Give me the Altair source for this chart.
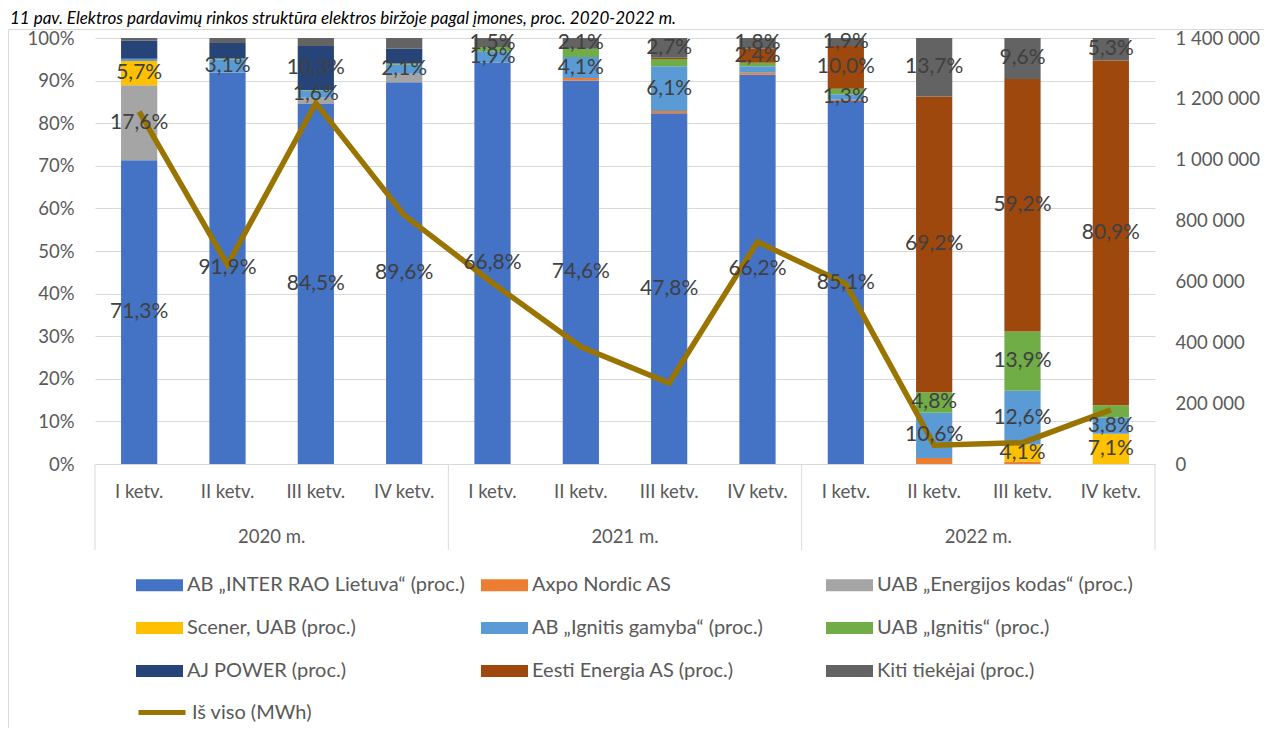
import altair as alt
import pandas as pd

TITLE = "11 pav. Elektros pardavimų rinkos struktūra elektros biržoje pagal įmones, proc. 2020-2022 m."

years = ["2020 m.", "2021 m.", "2022 m."]
quarters = ["I ketv.", "II ketv.", "III ketv.", "IV ketv."]

series_names = [
    "AB „INTER RAO Lietuva“ (proc.)",
    "Axpo Nordic AS",
    "UAB „Energijos kodas“ (proc.)",
    "Scener, UAB (proc.)",
    "AB „Ignitis gamyba“ (proc.)",
    "UAB „Ignitis“ (proc.)",
    "AJ POWER (proc.)",
    "Eesti Energia AS (proc.)",
    "Kiti tiekėjai (proc.)",
]
series_colors = ["#4472C4", "#ED7D31", "#A5A5A5", "#FFC000", "#5B9BD5",
                 "#70AD47", "#264478", "#9E480E", "#636363"]

# shares per quarter (2020 I .. 2022 IV), in percent
inter_rao = [71.3, 91.9, 84.5, 89.6, 66.8, 74.6, 47.8, 66.2, 85.1, 0, 0, 0]
axpo = [0, 0, 0, 0, 0, 0.45, 0.3, 0.35, 0.3, 1.4, 0.5, 0]
energijos_kodas = [17.6, 0, 1.5, 2.0, 0, 0, 0, 0, 0, 0, 0, 0]
scener = [5.7, 0, 0, 0, 0, 0, 0, 0, 0, 0, 4.1, 7.1]
ignitis_gamyba = [0.5, 3.1, 1.6, 2.1, 1.9, 4.1, 6.1, 1.1, 1.3, 10.6, 12.6, 3.8]
ignitis = [0, 0.2, 0.2, 0.3, 0.7, 1.6, 1.0, 0.6, 1.3, 4.8, 13.9, 2.9]
aj_power = [4.3, 3.6, 10.3, 3.5, 0, 0, 0, 0, 0, 0, 0, 0]
eesti = [0, 0, 0, 0, 0, 0, 0.15, 2.4, 10.0, 69.2, 59.2, 80.9]
kiti = [0.6, 1.2, 1.9, 2.5, 1.5, 2.1, 2.7, 1.8, 1.9, 13.7, 9.6, 5.3]

# which quarters carry a data label, per series
labelled = [
    [0, 1, 2, 3, 4, 5, 6, 7, 8],
    [],
    [0],
    [0, 10, 11],
    [1, 2, 3, 4, 5, 6, 8, 9, 10, 11],
    [9, 10],
    [2],
    [7, 8, 9, 10, 11],
    [4, 5, 6, 7, 8, 9, 10, 11],
]

line_name = "Iš viso (MWh)"
line_color = "#9A7400"
total_mwh = [1158000, 654000, 1186000, 818000, 595000, 385000, 266000,
             730000, 592000, 62000, 70000, 178000]

keys = [f"{y}|{q}" for y in years for q in quarters]

series_values = [inter_rao, axpo, energijos_kodas, scener, ignitis_gamyba,
                 ignitis, aj_power, eesti, kiti]

rows = []
for si, (name, vals) in enumerate(zip(series_names, series_values)):
    for qi, v in enumerate(vals):
        rows.append({
            "key": keys[qi], "series": name, "order": si, "value": v,
            "show": qi in labelled[si],
            "label": f"{v:.1f}%".replace(".", ","),
        })
bars_df = pd.DataFrame(rows)
line_df = pd.DataFrame({"key": keys, "total": total_mwh, "name": line_name})
years_df = pd.DataFrame({"key": [f"{y}|III ketv." for y in years], "year": years})
seps_df = pd.DataFrame({"key": [f"{y}|I ketv." for y in years]})
end_df = pd.DataFrame({"key": [keys[-1]]})
deco_df = pd.DataFrame({"t": [TITLE]})

FONT = "Lato"
GREY = "#595959"
GRID = "#D9D9D9"
W, H = 1060, 426
AX_FS = 18.5

xscale = alt.Scale(domain=keys, paddingInner=0, paddingOuter=0)
xaxis = alt.Axis(title=None, labelExpr="split(datum.label, '|')[1]", labelAngle=0,
                 labelFont=FONT, labelFontSize=AX_FS, labelColor=GREY, labelPadding=18,
                 ticks=False, domainColor=GRID, domainWidth=1, grid=False)
pscale = alt.Scale(domain=[0, 1])

base = alt.Chart(bars_df).transform_stack(
    stack="value", groupby=["key"], sort=[alt.SortField("order", "ascending")],
    as_=["y0", "y1"], offset="normalize")

bars = base.mark_bar(width=alt.RelativeBandSize(0.41)).encode(
    x=alt.X("key:N", scale=xscale, axis=xaxis, sort=keys),
    y=alt.Y("y0:Q", scale=pscale,
            axis=alt.Axis(title=None, format=".0%", values=[i / 10 for i in range(11)],
                          labelFont=FONT, labelFontSize=AX_FS, labelColor=GREY,
                          labelPadding=21, ticks=False, domain=False,
                          gridColor=GRID, gridWidth=1)),
    y2="y1:Q",
    color=alt.Color("series:N", scale=alt.Scale(domain=series_names, range=series_colors),
                    legend=alt.Legend(title=None, orient="none", legendX=41, legendY=523.5,
                                      direction="horizontal", columns=3, gridAlign="all",
                                      columnPadding=16, rowPadding=9,
                                      symbolType="M-1,-0.255L1,-0.255L1,0.255L-1,0.255Z",
                                      symbolSize=2209, symbolStrokeWidth=0,
                                      labelFont=FONT, labelFontSize=20, labelColor=GREY,
                                      labelOffset=4, labelLimit=400, padding=0)),
)

line = alt.Chart(line_df).mark_line(strokeWidth=5.5, strokeJoin="miter").encode(
    x=alt.X("key:N", sort=keys),
    y=alt.Y("total:Q", scale=alt.Scale(domain=[0, 1400000]),
            axis=alt.Axis(orient="right", title=None,
                          values=[i * 200000 for i in range(8)],
                          labelExpr="replace(replace(format(datum.value, ',.0f'), ',', ' '), ',', ' ')",
                          labelFont=FONT, labelFontSize=AX_FS, labelColor=GREY,
                          labelPadding=20, ticks=False, domain=False, grid=False)),
    stroke=alt.Stroke("name:N", scale=alt.Scale(domain=[line_name], range=[line_color]),
                      legend=alt.Legend(title=None, orient="none", legendX=41, legendY=648.5,
                                        symbolType="stroke", symbolSize=2209,
                                        symbolStrokeWidth=5,
                                        labelFont=FONT, labelFontSize=20, labelColor=GREY,
                                        labelOffset=4, padding=0)),
)

labels = base.transform_filter("datum.show").transform_calculate(
    mid="(datum.y0 + datum.y1) / 2").mark_text(
    font=FONT, fontSize=21, color="#404040", align="center", baseline="middle").encode(
    x=alt.X("key:N", sort=keys),
    y=alt.Y("mid:Q", scale=pscale, axis=None),
    text="label:N",
)

year_text = alt.Chart(years_df).mark_text(
    font=FONT, fontSize=AX_FS, color=GREY, align="center", baseline="middle").encode(
    x=alt.X("key:N", bandPosition=0, sort=keys),
    y=alt.value(H + 73),
    text="year:N",
)

seps = alt.Chart(seps_df).mark_rule(color=GRID, strokeWidth=1).encode(
    x=alt.X("key:N", bandPosition=0, sort=keys),
    y=alt.value(H), y2=alt.value(H + 86),
)
end_sep = alt.Chart(end_df).mark_rule(color=GRID, strokeWidth=1).encode(
    x=alt.X("key:N", bandPosition=1, sort=keys),
    y=alt.value(H), y2=alt.value(H + 86),
)

title_text = alt.Chart(deco_df).mark_text(
    font=FONT, fontSize=17, fontStyle="italic", color="#000000",
    align="left", baseline="alphabetic").encode(
    x=alt.value(-85), y=alt.value(-14), text="t:N")

frame = alt.Chart(deco_df).mark_rect(fill="#FFFFFF", fillOpacity=0, stroke=GRID,
                                     strokeWidth=1).encode(
    x=alt.value(-86.5), x2=alt.value(1200), y=alt.value(-8.5), y2=alt.value(720))

chart = alt.layer(frame, title_text, bars, line, labels, year_text, seps, end_sep).resolve_scale(
    y="independent").properties(
    width=W, height=H,
    autosize=alt.AutoSizeParams(type="none"),
    padding={"left": 87, "top": 30, "right": 109, "bottom": 264},
).configure_view(strokeWidth=0)

chart.save("out.html", embed_options={"renderer": "svg", "actions": False})
